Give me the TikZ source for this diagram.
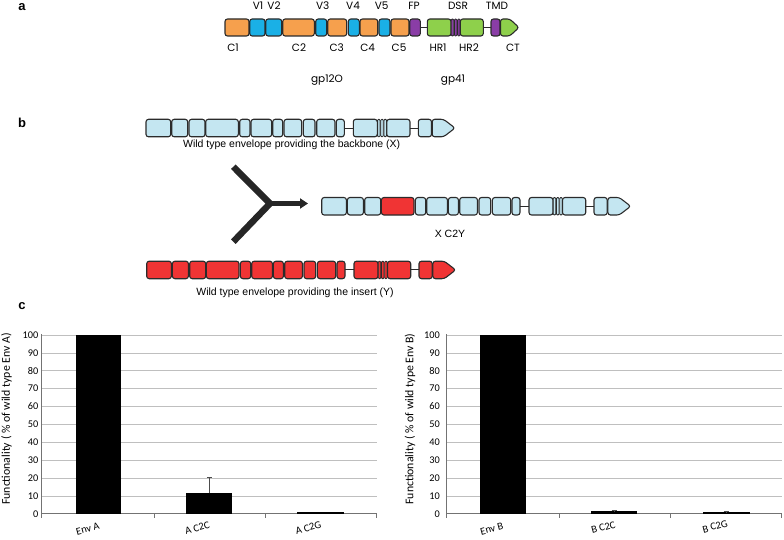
\documentclass[tikz,border=0pt]{standalone}
\usepackage{fontspec}
\setmainfont{Liberation Sans}
\newfontfamily\carlf{Carlito}
\newfontfamily\popf{Poppins}
\usetikzlibrary{arrows.meta}
\definecolor{orng}{HTML}{F6A04D}
\definecolor{cyanb}{HTML}{1AB0E6}
\definecolor{purp}{HTML}{8A3DA6}
\definecolor{grn}{HTML}{8ED04B}
\definecolor{ltb}{HTML}{C4E6F1}
\definecolor{redf}{HTML}{F03434}
\definecolor{edgec}{HTML}{2B2B2B}
\definecolor{arrowc}{HTML}{262626}
\def\segtop{0}\def\segbot{17.5}
\newcommand\envseg[3]{\draw[segbox,fill=#3] (#1,\segtop) rectangle (#2,\segbot);}
\newcommand\envlink[2]{\draw[linkst] (#1,{(\segtop+\segbot)/2}) -- (#2,{(\segtop+\segbot)/2});}
\newcommand\envstripes[2]{%
  \draw[stripebox,fill=#2] (#1,\segtop) rectangle ({#1+2.5},\segbot);
  \draw[stripebox,fill=#2] ({#1+3.2},\segtop) rectangle ({#1+5.7},\segbot);
  \draw[stripebox,fill=#2] ({#1+6.4},\segtop) rectangle ({#1+8.9},\segbot);}
\newcommand\envtip[3]{\draw[segbox,fill=#3] (#1,\segtop) -- ({#1+0.5*(#2-#1)},\segtop) -- (#2,{(\segtop+\segbot)/2}) -- ({#1+0.5*(#2-#1)},\segbot) -- (#1,\segbot) -- cycle;}
\newcommand\construct[2]{%
  \envseg{146}{170.7}{#1}\envseg{171.7}{187.7}{#1}\envseg{189}{205}{#1}%
  \envseg{205.7}{238.3}{#2}\envseg{239.7}{250}{#1}\envseg{251}{271.7}{#1}%
  \envseg{272.7}{282.7}{#1}\envseg{284}{301.7}{#1}\envseg{303.3}{315}{#1}%
  \envseg{316.7}{335}{#1}\envseg{336.3}{344.3}{#1}%
  \envlink{344.3}{353.3}%
  \envseg{353.3}{377.3}{#1}\envstripes{377.6}{#1}\envseg{386.8}{410}{#1}%
  \envlink{410}{418.3}%
  \envseg{418.3}{431.5}{#1}\envtip{432.2}{455}{#1}}
\tikzset{
  segbox/.style={draw=edgec,line width=1.1pt,rounded corners=2.5pt},
  stripebox/.style={draw=edgec,line width=0.8pt,rounded corners=1pt},
  linkst/.style={draw=edgec,line width=1pt},
  plab/.style={font=\bfseries\fontsize{13}{14}\selectfont,inner sep=0pt},
  alab/.style={font=\popf\fontsize{10.5}{12}\selectfont,inner sep=0pt},
  blab/.style={font=\fontsize{10.5}{12}\selectfont,inner sep=0pt},
  gridst/.style={draw=black!25,line width=0.6pt},
  axisst/.style={draw=black!55,line width=0.7pt},
  barst/.style={draw=black,fill=black,line width=0.6pt},
  errst/.style={draw=black!70,line width=0.7pt},
  ytl/.style={font=\carlf\fontsize{10.3}{11}\selectfont,anchor=east,inner sep=0pt},
  catl/.style={font=\carlf\fontsize{10.5}{11}\selectfont,rotate=15,inner sep=0pt},
  ylab/.style={font=\carlf\fontsize{11.8}{13}\selectfont,rotate=90,inner sep=0pt},
  armst/.style={draw=arrowc,line width=6.5pt,line cap=butt},
}
\begin{document}
\begin{tikzpicture}[x=1pt,y=-1pt]
\useasboundingbox (0,0) rectangle (784,540);
% panel labels
\node[plab] (pa) at (22,7) {a};
\node[plab] (pb) at (22,123) {b};
\node[plab] (pc) at (22,306) {c};
% ---------- panel a ----------
\def\segtop{19}\def\segbot{36}
\envseg{225}{249}{orng}
\envseg{249.7}{265}{cyanb}
\envseg{265.7}{281.7}{cyanb}
\envseg{282.7}{314.3}{orng}
\envseg{315.7}{326.7}{cyanb}
\envseg{327.7}{346.7}{orng}
\envseg{348.3}{359.3}{cyanb}
\envseg{360}{377.7}{orng}
\envseg{379}{390}{cyanb}
\envseg{391}{409}{orng}
\envseg{409.7}{420.3}{purp}
\envlink{420.3}{427.3}
\envseg{427.3}{451}{grn}
\envstripes{451.2}{purp}
\envseg{460.3}{483.3}{grn}
\envlink{483.3}{491}
\envseg{491}{500}{purp}
\envtip{500.5}{519}{grn}
\node[alab] (lV1) at (258,6) {V1};
\node[alab] (lV2) at (274,6) {V2};
\node[alab] (lV3) at (322.7,6) {V3};
\node[alab] (lV4) at (353,6) {V4};
\node[alab] (lV5) at (381.7,6) {V5};
\node[alab] (lFP) at (414,6) {FP};
\node[alab] (lDSR) at (458,6) {DSR};
\node[alab] (lTMD) at (497,6) {TMD};
\node[alab] (lC1) at (233,48) {C1};
\node[alab] (lC2) at (299,48) {C2};
\node[alab] (lC3) at (336.7,48) {C3};
\node[alab] (lC4) at (367.7,48) {C4};
\node[alab] (lC5) at (399,48) {C5};
\node[alab] (lHR1) at (438,48) {HR1};
\node[alab] (lHR2) at (469,48) {HR2};
\node[alab] (lCT) at (513,48) {CT};
\node[alab] (lgp120) at (327,80) {gp12O};
\node[alab] (lgp41) at (453,80) {gp41};
% ---------- panel b ----------
\def\segtop{0}\def\segbot{17.5}
\begin{scope}[shift={(0,119.3)}]
\construct{ltb}{ltb}
\end{scope}
\begin{scope}[shift={(175.7,197.5)}]
\construct{ltb}{redf}
\end{scope}
\begin{scope}[shift={(0.7,261.2)}]
\construct{redf}{redf}
\end{scope}
\node[blab] (tX) at (291.7,144.5) {Wild type envelope providing the backbone (X)};
\node[blab] (tXY) at (450,233.5) {X C2Y};
\node[blab] (tY) at (295,293) {Wild type envelope providing the insert (Y)};
% Y-shaped arrow
\coordinate (ja) at (233.3,166.7);
\coordinate (jb) at (233.3,241.7);
\coordinate (jc) at (270,203.5);
\coordinate (jd) at (308,203.5);
\draw[armst] (ja) -- (jc);
\draw[armst] (jb) -- (jc);
\draw[draw=arrowc,line width=5pt,-{Triangle[length=8pt,width=10pt]}] ([xshift=-2pt]jc) -- (jd);
% ---------- panel c : chart A ----------
\foreach \v in {10,20,...,100}
  \draw[gridst] (41.7,{513.7-1.787*\v}) -- (376.7,{513.7-1.787*\v});
\foreach \v in {0,10,...,100}
  \node[ytl] (ta\v) at (38.5,{513.7-1.787*\v}) {\v};
\draw[axisst] (41.7,334) -- (41.7,513.7);
\draw[axisst] (41.7,513.7) -- (376.7,513.7);
\foreach \x in {41.7,154,265,376.7}
  \draw[axisst] (\x,513.7) -- (\x,517.5);
\draw[barst] (76,513.7) rectangle (120.3,335);
\draw[barst] (186.7,513.7) rectangle (231.7,493.3);
\draw[barst] (297.7,513.7) rectangle (343.3,512.6);
\draw[errst] (209.3,493.3) -- (209.3,477.3);
\draw[errst] (206.8,477.3) -- (211.8,477.3);
\node[catl] (ca1) at (87.7,529) {Env A};
\node[catl] (ca2) at (197.3,528) {A C2C};
\node[catl] (ca3) at (308.3,528) {A C2G};
\node[ylab] (yla) at (6.5,419) {Functionality ( \% of wild type Env A)};
% ---------- chart B ----------
\foreach \v in {10,20,...,100}
  \draw[gridst] (446.7,{513.7-1.787*\v}) -- (781.7,{513.7-1.787*\v});
\foreach \v in {0,10,...,100}
  \node[ytl] (tb\v) at (440,{513.7-1.787*\v}) {\v};
\draw[axisst] (446.7,334) -- (446.7,513.7);
\draw[axisst] (446.7,513.7) -- (781.7,513.7);
\foreach \x in {446.7,559,670,781.7}
  \draw[axisst] (\x,513.7) -- (\x,517.5);
\draw[barst] (480,513.7) rectangle (525,335);
\draw[barst] (591.7,513.7) rectangle (636.7,511.5);
\draw[barst] (703.3,513.7) rectangle (749,512.2);
\draw[errst] (614.2,511.5) -- (614.2,510.6);
\draw[errst] (611.7,510.6) -- (616.7,510.6);
\draw[errst] (726.1,512.2) -- (726.1,511.5);
\draw[errst] (723.6,511.5) -- (728.6,511.5);
\node[catl] (cb1) at (491.7,529) {Env B};
\node[catl] (cb2) at (603.3,527.5) {B C2C};
\node[catl] (cb3) at (715,526.5) {B C2G};
\node[ylab] (ylb) at (410,419) {Functionality ( \% of wild type Env B)};
\end{tikzpicture}
\end{document}
